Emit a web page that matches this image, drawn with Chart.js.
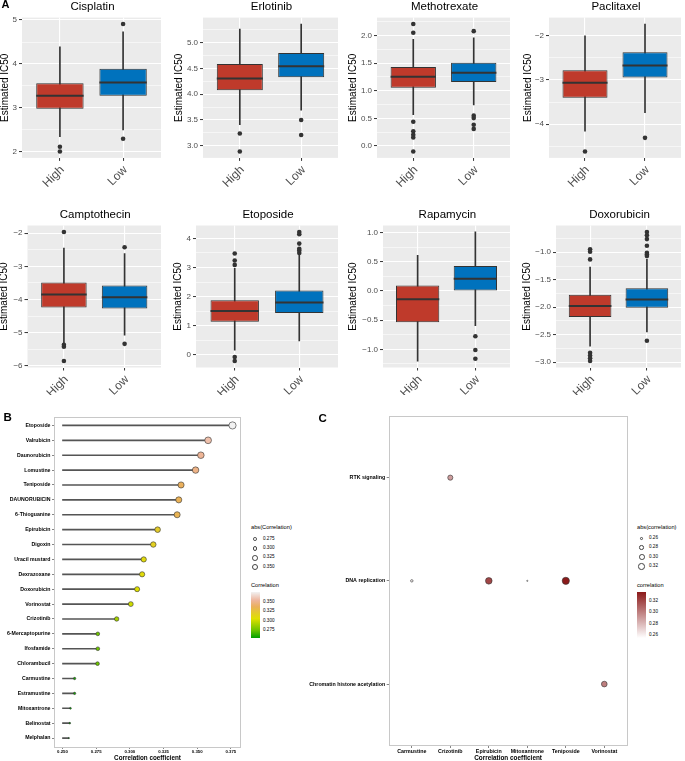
<!DOCTYPE html>
<html>
<head>
<meta charset="utf-8">
<script src="https://cdn.jsdelivr.net/npm/chart.js@4.4.1/dist/chart.umd.min.js"></script>
<style>
  body { margin: 0; width: 685px; height: 761px; overflow: hidden; background: #fff; }
  #fig { position: relative; width: 685px; height: 761px; font-family: "Liberation Sans", Arial, sans-serif; }
  #fig canvas, #fig .lbl, #fig .shape { position: absolute; }
  .lbl { white-space: nowrap; line-height: 1; }
</style>
</head>
<body>
<div id="fig"></div>
<script>
// ---------- Panel A: estimated IC50 by risk group ----------
const groups = ["High", "Low"];
const drugsA = ["Cisplatin", "Erlotinib", "Methotrexate", "Paclitaxel",
                "Camptothecin", "Etoposide", "Rapamycin", "Doxorubicin"];
// [lower whisker, Q1, median, Q3, upper whisker]
const highStats = [
  [2.35, 2.985, 3.28, 3.56, 4.39],
  [3.41, 4.077, 4.306, 4.585, 5.26],
  [0.567, 1.054, 1.252, 1.433, 1.93],
  [-4.16, -3.40, -3.06, -2.78, -2.0],
  [-5.31, -4.245, -3.85, -3.49, -2.45],
  [0.16, 1.14, 1.51, 1.88, 2.97],
  [-1.2, -0.536, -0.14, 0.094, 0.61],
  [-2.71, -2.18, -1.98, -1.773, -1.27]
];
const lowStats = [
  [2.5, 3.28, 3.58, 3.89, 4.73],
  [3.69, 4.33, 4.54, 4.80, 5.36],
  [0.745, 1.157, 1.325, 1.506, 1.96],
  [-3.74, -2.94, -2.67, -2.37, -1.73],
  [-5.08, -4.27, -3.93, -3.58, -2.61],
  [0.48, 1.44, 1.80, 2.21, 3.42],
  [-0.595, 0.0, 0.21, 0.427, 1.01],
  [-2.45, -2.01, -1.86, -1.654, -1.13]
];
const highOutliers = [
  [2.12, 2.01],
  [3.24, 2.89],
  [2.21, 2.05, 0.44, 0.265, 0.205, 0.155, -0.1],
  [-4.62],
  [-1.96, -5.37, -5.43, -5.86],
  [3.48, 3.24, 3.09, -0.07, -0.21],
  [],
  [-0.944, -0.99, -1.13, -2.83, -2.88, -2.93, -2.98]
];
const lowOutliers = [
  [4.91, 2.30],
  [3.50, 3.21],
  [2.08, 0.55, 0.505, 0.385, 0.31],
  [-4.31],
  [-2.42, -5.34],
  [4.22, 4.14, 3.82, 3.64, 3.58, 3.50],
  [-0.776, -1.01, -1.16],
  [-0.63, -0.69, -0.76, -0.88, -1.01, -1.04, -1.07, -2.61]
];
const yTicksA = [
  [2, 3, 4, 5],
  [3.0, 3.5, 4.0, 4.5, 5.0],
  [0.0, 0.5, 1.0, 1.5, 2.0],
  [-4, -3, -2],
  [-6, -5, -4, -3, -2],
  [0, 1, 2, 3, 4],
  [-1.0, -0.5, 0.0, 0.5, 1.0],
  [-3.0, -2.5, -2.0, -1.5, -1.0]
];
const tickDecimalsA = [0, 1, 1, 0, 0, 0, 1, 1];

// ---------- Panel B: drug correlation lollipop ----------
const drugsB = ["Etoposide", "Valrubicin", "Daunorubicin", "Lomustine", "Teniposide",
  "DAUNORUBICIN", "6-Thioguanine", "Epirubicin", "Digoxin", "Uracil mustard",
  "Dexrazoxane", "Doxorubicin", "Vorinostat", "Crizotinib", "6-Mercaptopurine",
  "Ifosfamide", "Chlorambucil", "Carmustine", "Estramustine", "Mitoxantrone",
  "Belinostat", "Melphalan"];
const corrB = [0.3762, 0.3581, 0.3527, 0.3488, 0.3380, 0.3363, 0.3351, 0.3206, 0.3174, 0.3103,
  0.3091, 0.3054, 0.3007, 0.2902, 0.2762, 0.2762, 0.2760, 0.2590, 0.2590, 0.2559,
  0.2554, 0.2547];
const segStartB = 0.25;
const xTicksB = [0.250, 0.275, 0.300, 0.325, 0.350, 0.375];
const sizeLegendB = [0.275, 0.300, 0.325, 0.350];
const colorLegendB = [0.350, 0.325, 0.300, 0.275];

// ---------- Panel C: pathway vs drug ----------
const pathwaysC = ["RTK signaling", "DNA replication", "Chromatin histone acetylation"];
const drugsC = ["Carmustine", "Crizotinib", "Epirubicin", "Mitoxantrone", "Teniposide", "Vorinostat"];
const pointDrugC = ["Crizotinib", "Carmustine", "Epirubicin", "Mitoxantrone", "Teniposide", "Vorinostat"];
const pointPathC = ["RTK signaling", "DNA replication", "DNA replication", "DNA replication",
  "DNA replication", "Chromatin histone acetylation"];
const corrC = [0.290, 0.259, 0.3206, 0.2555, 0.336, 0.3007];
const sizeLegendC = [0.26, 0.28, 0.30, 0.32];
const colorLegendC = [0.32, 0.30, 0.28, 0.26];

// ================= helpers =================
const FONT = '"Liberation Sans", Arial, sans-serif';
Chart.defaults.font.family = FONT;
Chart.defaults.animation = false;
Chart.defaults.responsive = false;
Chart.defaults.events = [];
Chart.defaults.plugins.legend.display = false;
Chart.defaults.plugins.tooltip.enabled = false;

const fig = document.getElementById("fig");

function addText(txt, x, yc, size, opts = {}) {
  const d = document.createElement("div");
  d.className = "lbl";
  d.textContent = txt;
  d.style.fontSize = size + "px";
  d.style.top = (yc - 0.49 * size) + "px";
  d.style.left = x + "px";
  if (opts.width) { d.style.width = opts.width + "px"; d.style.textAlign = "center"; }
  if (opts.bold) d.style.fontWeight = "bold";
  d.style.color = opts.color || "#000";
  fig.appendChild(d);
}

function addShape(x, y, w, h, css) {
  const d = document.createElement("div");
  d.className = "shape";
  d.style.left = x + "px"; d.style.top = y + "px";
  d.style.width = w + "px"; d.style.height = h + "px";
  Object.assign(d.style, css);
  fig.appendChild(d);
}

function addCircle(cx, cy, r) {
  addShape(cx - r, cy - r, 2 * r, 2 * r,
    { borderRadius: "50%", border: "0.6px solid #444", boxSizing: "border-box", background: "#fff" });
}

function addCanvas(left, top, w, h) {
  const c = document.createElement("canvas");
  c.width = w; c.height = h;
  c.style.left = left + "px"; c.style.top = top + "px";
  c.style.width = w + "px"; c.style.height = h + "px";
  fig.appendChild(c);
  return c;
}

function hex(c) { return [1, 3, 5].map(i => parseInt(c.slice(i, i + 2), 16)); }
// stops: [[position 0..1, "#rrggbb"], ...]
function mixStops(stops, t) {
  t = Math.max(0, Math.min(1, t));
  let k = 0;
  while (k < stops.length - 2 && t > stops[k + 1][0]) k++;
  const [p0, c0] = stops[k], [p1, c1] = stops[k + 1];
  const f = (t - p0) / (p1 - p0), a = hex(c0), b = hex(c1);
  return "rgb(" + a.map((v, i) => Math.round(v + (b[i] - v) * f)).join(",") + ")";
}
function cssGradient(stops) {
  return "linear-gradient(to top, " + stops.map(([p, c]) => c + " " + (p * 100) + "%").join(", ") + ")";
}

// panel background + frame
const panelBg = {
  id: "panelBg",
  beforeDraw(chart, args, o) {
    if (!o.color) return;
    const { ctx, chartArea: a } = chart;
    ctx.save();
    ctx.fillStyle = o.color;
    ctx.fillRect(a.left, a.top, a.right - a.left, a.bottom - a.top);
    ctx.restore();
  },
  afterDatasetsDraw(chart, args, o) {
    if (!o.frame) return;
    const { ctx, chartArea: a } = chart;
    ctx.save();
    ctx.strokeStyle = o.frame;
    ctx.lineWidth = 1;
    ctx.strokeRect(Math.round(a.left) + 0.5, Math.round(a.top) + 0.5,
      Math.round(a.right - a.left) - 1, Math.round(a.bottom - a.top) - 1);
    ctx.restore();
  }
};

// median line across each box
const medianLines = {
  id: "medianLines",
  afterDatasetsDraw(chart, args, o) {
    if (!o.values) return;
    const meta = chart.getDatasetMeta(o.dataset);
    const y = chart.scales.y, ctx = chart.ctx;
    ctx.save();
    ctx.strokeStyle = "#333";
    ctx.lineWidth = 2;
    meta.data.forEach((bar, k) => {
      const py = y.getPixelForValue(o.values[k]);
      ctx.beginPath();
      ctx.moveTo(bar.x - bar.width / 2, py);
      ctx.lineTo(bar.x + bar.width / 2, py);
      ctx.stroke();
    });
    ctx.restore();
  }
};
Chart.register(panelBg, medianLines);

// ================= Panel A =================
// [titleX, plotLeft, plotRight] per panel
const colsA = [[5, 22, 163], [179, 203, 340], [353, 377, 512], [528, 549, 683],
               [4, 27.5, 163], [178, 196, 340], [352.5, 383, 511.7], [526.7, 556, 683]];
const rowsA = [{ top: 0, height: 195, plotTop: 17.6, plotBottom: 157.9, titleY: 6.8 },
               { top: 195, height: 200, plotTop: 225.5, plotBottom: 367.5, titleY: 214.3 }];
const boxColors = ["#bf3a2b", "#0072bd"];

function boxplotChart(i) {
  const [titleX, plotL, plotR] = colsA[i];
  const row = rowsA[i < 4 ? 0 : 1];
  const cl = Math.round(titleX - 7), cr = Math.round(plotR + 2);
  const canvas = addCanvas(cl, row.top, cr - cl, row.height);
  addText(drugsA[i], plotL, row.titleY, 11.5, { width: plotR - plotL });

  const stats = [highStats[i], lowStats[i]];
  const outs = [highOutliers[i], lowOutliers[i]];
  const all = stats.flat().concat(...outs);
  const lo = Math.min(...all), hi = Math.max(...all), pad = (hi - lo) * 0.05;
  const ymin = lo - pad, ymax = hi + pad;
  const major = yTicksA[i];
  const step = major[1] - major[0];
  const minor = [major[0] - step / 2, ...major.map(v => v + step / 2)].filter(v => v > ymin && v < ymax);
  const isMajor = v => major.some(m => Math.abs(m - v) < 1e-9);
  const fmt = v => (v < 0 ? "\u2212" : "") + Math.abs(v).toFixed(tickDecimalsA[i]);

  new Chart(canvas, {
    type: "bar",
    data: {
      datasets: [
        {
          type: "scatter", order: 1,
          data: outs.flatMap((arr, k) => arr.map(v => ({ x: k + 1, y: v }))),
          pointRadius: 2.3, backgroundColor: "#333", borderWidth: 0
        },
        {
          order: 2,
          data: stats.map((s, k) => ({ x: k + 1, y: [s[1], s[3]] })),
          backgroundColor: boxColors, borderColor: "#333", borderWidth: 1,
          borderSkipped: false, grouped: false, barPercentage: 0.75, categoryPercentage: 1
        },
        {
          order: 3,
          data: stats.map((s, k) => ({ x: k + 1, y: [s[0], s[4]] })),
          backgroundColor: "#333", barThickness: 1, grouped: false
        }
      ]
    },
    options: {
      layout: { padding: { top: row.plotTop - row.top, right: cr - plotR, left: 0, bottom: 0 } },
      scales: {
        x: {
          type: "linear", min: 0.4, max: 2.6, offset: false,
          afterBuildTicks: s => { s.ticks = groups.map((g, k) => ({ value: k + 1 })); },
          afterFit: s => { s.height = row.top + row.height - row.plotBottom; },
          grid: { offset: false, color: "#fff", lineWidth: 1.1, tickColor: "#333", tickWidth: 1, tickLength: 3 },
          border: { display: false },
          ticks: {
            autoSkip: false, minRotation: 45, maxRotation: 45, padding: 2, labelOffset: 2.5,
            color: "#4d4d4d", font: { size: 12 },
            callback: v => groups[v - 1]
          }
        },
        y: {
          type: "linear", min: ymin, max: ymax, offset: false, beginAtZero: false,
          afterBuildTicks: s => { s.ticks = major.concat(minor).sort((a, b) => a - b).map(v => ({ value: v })); },
          afterFit: s => { s.width = plotL - cl; },
          grid: {
            offset: false, color: "#fff",
            lineWidth: c => (c.tick && isMajor(c.tick.value)) ? 1.1 : 0.55,
            tickColor: c => (c.tick && isMajor(c.tick.value)) ? "#333" : "rgba(0,0,0,0)",
            tickWidth: 1, tickLength: 3
          },
          border: { display: false },
          ticks: {
            autoSkip: false, padding: 2, color: "#4d4d4d", font: { size: 8 },
            callback: v => isMajor(v) ? fmt(v) : ""
          },
          title: {
            display: true, text: "Estimated IC50", color: "#000",
            font: { size: 10 }, padding: { top: 1, bottom: 0 }
          }
        }
      },
      plugins: {
        panelBg: { color: "#ebebeb" },
        medianLines: { dataset: 1, values: stats.map(s => s[2]) }
      }
    }
  });
}
drugsA.forEach((d, i) => boxplotChart(i));
addText("A", 1.5, 4.5, 11, { bold: true });

// ================= Panel B =================
const minB = Math.min(...corrB), maxB = Math.max(...corrB);
const terrainStops = [[0, "#00A000"], [0.17, "#6CC400"], [0.42, "#E0E000"], [0.56, "#E4C830"],
                      [0.68, "#EAB05A"], [0.82, "#EEB59C"], [1, "#F2F2F2"]];
const colorB = v => mixStops(terrainStops, (v - minB) / (maxB - minB));
const sizeB = v => 0.6 * (1 + 5 * Math.sqrt(Math.max(0, (v - minB) / (maxB - minB))));

function lollipopChart() {
  const cl = 0, ct = 400, w = 246, h = 365;
  const plotL = 54, plotR = 241, plotT = 416.5, plotB = 747;
  const canvas = addCanvas(cl, ct, w, h);
  const lo = Math.min(segStartB, minB), hi = maxB, pad = (hi - lo) * 0.05;
  new Chart(canvas, {
    type: "scatter",
    data: {
      datasets: [
        {
          type: "scatter", order: 1,
          data: corrB.map((v, k) => ({ x: v, y: k + 1 })),
          pointRadius: c => sizeB(corrB[c.dataIndex]),
          backgroundColor: c => colorB(corrB[c.dataIndex]),
          borderColor: "#333", borderWidth: 0.6
        },
        {
          type: "bar", order: 2, indexAxis: "y",
          data: corrB.map((v, k) => ({ y: k + 1, x: [segStartB, v] })),
          backgroundColor: "#555", barThickness: 1, grouped: false
        }
      ]
    },
    options: {
      layout: { padding: { top: plotT - ct, right: cl + w - plotR, left: 0, bottom: 0 } },
      scales: {
        x: {
          type: "linear", min: lo - pad, max: hi + pad, offset: false,
          afterBuildTicks: s => { s.ticks = xTicksB.map(v => ({ value: v })); },
          afterFit: s => { s.height = ct + h - plotB; },
          grid: { offset: false, drawOnChartArea: false, tickLength: 2, tickColor: "#333", tickWidth: 0.6 },
          border: { display: false },
          ticks: {
            autoSkip: false, maxRotation: 0, padding: 0.6, color: "#000",
            font: { size: 4.3, weight: "bold" }, callback: v => v.toFixed(3)
          },
          title: {
            display: true, text: "Correlation coefficient", color: "#000",
            font: { size: 6.3, weight: "bold" }, padding: { top: 0, bottom: 2.5 }
          }
        },
        y: {
          type: "linear", min: 0.4, max: drugsB.length + 0.6, reverse: true, offset: false,
          afterBuildTicks: s => { s.ticks = drugsB.map((d, k) => ({ value: k + 1 })); },
          afterFit: s => { s.width = plotL - cl; },
          grid: { offset: false, drawOnChartArea: false, tickLength: 2, tickColor: "#333", tickWidth: 0.6 },
          border: { display: false },
          ticks: {
            autoSkip: false, padding: 1.5, color: "#000",
            font: { size: 5.2, weight: "bold" }, callback: v => drugsB[v - 1]
          }
        }
      },
      plugins: { panelBg: { frame: "#c8c8c8" } }
    }
  });
}
lollipopChart();
addText("B", 3.5, 417.5, 11.5, { bold: true });

// legend B
addText("abs(Correlation)", 251, 528, 5.7);
sizeLegendB.forEach((v, k) => {
  const y = 539 + k * 9.33;
  addCircle(255, y, sizeB(v));
  addText(v.toFixed(3), 263, y, 4.6);
});
addText("Correlation", 251, 586, 5.7);
addShape(251, 592, 9, 46, { background: cssGradient(terrainStops) });
colorLegendB.forEach(v => addText(v.toFixed(3), 263, 592 + (maxB - v) / (maxB - minB) * 46, 4.6));

// ================= Panel C =================
const minC = Math.min(...corrC), maxC = Math.max(...corrC);
const redStops = [[0, "#FFFFFF"], [1, "#8B1A1A"]];
const colorC = v => mixStops(redStops, (v - minC) / (maxC - minC));
const sizeC = v => 0.6 * (1 + 5 * Math.sqrt(Math.max(0, (v - minC) / (maxC - minC))));

function dotChart() {
  const cl = 290, ct = 400, w = 342, h = 365;
  const plotL = 388.7, plotR = 628.3, plotT = 415.7, plotB = 746;
  const canvas = addCanvas(cl, ct, w, h);
  new Chart(canvas, {
    type: "scatter",
    data: {
      datasets: [{
        data: corrC.map((v, k) => ({ x: drugsC.indexOf(pointDrugC[k]) + 1, y: pathwaysC.indexOf(pointPathC[k]) + 1 })),
        pointRadius: c => sizeC(corrC[c.dataIndex]),
        backgroundColor: c => colorC(corrC[c.dataIndex]),
        borderColor: "#333", borderWidth: 0.6
      }]
    },
    options: {
      layout: { padding: { top: plotT - ct, right: cl + w - plotR, left: 0, bottom: 0 } },
      scales: {
        x: {
          type: "linear", min: 0.4, max: drugsC.length + 0.6, offset: false,
          afterBuildTicks: s => { s.ticks = drugsC.map((d, k) => ({ value: k + 1 })); },
          afterFit: s => { s.height = ct + h - plotB; },
          grid: { offset: false, drawOnChartArea: false, tickLength: 2, tickColor: "#333", tickWidth: 0.6 },
          border: { display: false },
          ticks: {
            autoSkip: false, maxRotation: 0, padding: 0.5, color: "#000",
            font: { size: 5.3, weight: "bold" }, callback: v => drugsC[v - 1]
          },
          title: {
            display: true, text: "Correlation coefficient", color: "#000",
            font: { size: 6.4, weight: "bold" }, padding: { top: 0, bottom: 2.8 }
          }
        },
        y: {
          type: "linear", min: 0.4, max: pathwaysC.length + 0.6, reverse: true, offset: false,
          afterBuildTicks: s => { s.ticks = pathwaysC.map((p, k) => ({ value: k + 1 })); },
          afterFit: s => { s.width = plotL - cl; },
          grid: { offset: false, drawOnChartArea: false, tickLength: 2, tickColor: "#333", tickWidth: 0.6 },
          border: { display: false },
          ticks: {
            autoSkip: false, padding: 1.5, color: "#000",
            font: { size: 5.3, weight: "bold" }, callback: v => pathwaysC[v - 1]
          }
        }
      },
      plugins: { panelBg: { frame: "#c8c8c8" } }
    }
  });
}
dotChart();
addText("C", 318.5, 418.5, 11.5, { bold: true });

// legend C
addText("abs(correlation)", 637, 528, 5.7);
sizeLegendC.forEach((v, k) => {
  const y = 538.3 + k * 9.33;
  addCircle(641.7, y, sizeC(v));
  addText(v.toFixed(2), 649, y, 4.6);
});
addText("correlation", 637, 586, 5.7);
addShape(637, 592, 9, 46, { background: cssGradient(redStops) });
colorLegendC.forEach(v => addText(v.toFixed(2), 649, 592 + (maxC - v) / (maxC - minC) * 46, 4.6));
</script>
</body>
</html>
